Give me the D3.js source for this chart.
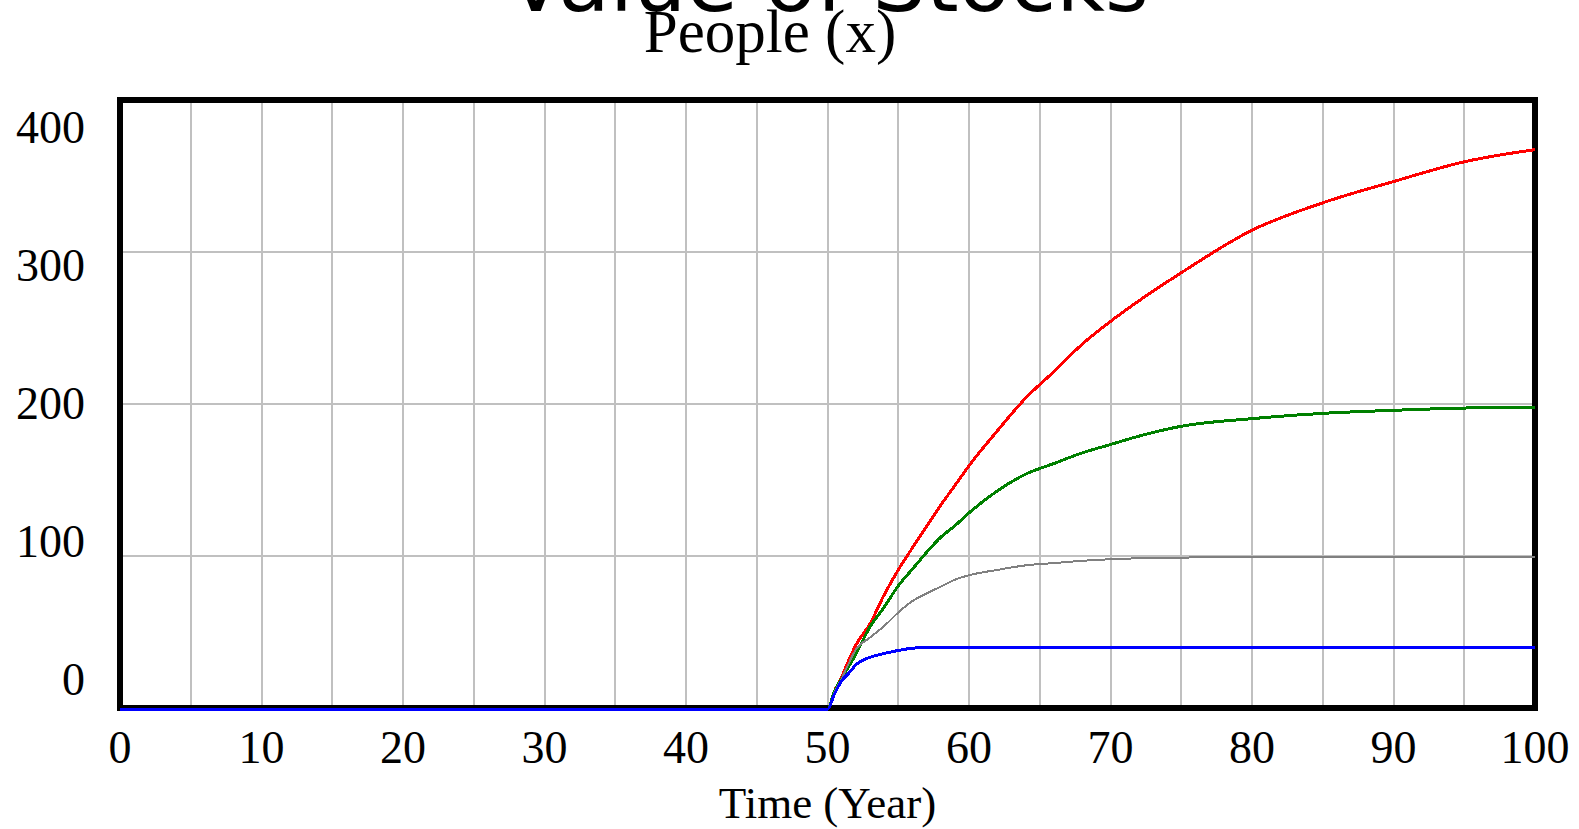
<!DOCTYPE html>
<html>
<head>
<meta charset="utf-8">
<script src="https://cdn.jsdelivr.net/npm/d3@7"></script>
<style>
  html, body { margin: 0; padding: 0; background: #fff; overflow: hidden; }
  svg { display: block; }
  .serif { font-family: "Liberation Serif", "Times New Roman", serif; fill: #000; }
</style>
</head>
<body>
<svg id="chart" width="1579" height="829"></svg>
<script>
// Simulation output: stock levels of People (x) over time, one run per series
const years = [0, 50, 50.5, 51, 51.5, 52, 53, 54, 55, 56, 57, 58, 59, 60, 62, 64, 66, 68, 70, 72, 75, 80, 85, 90, 95, 100];
const redRun   = [0, 0, 12, 21, 32, 42, 56, 75, 91.5, 106, 120, 134, 147, 160, 183, 204.5, 222, 240, 255, 268.5, 287, 315, 333, 347, 360, 368];
const greenRun = [0, 0, 12, 20, 28, 36, 54, 67, 81, 92, 103, 113, 120.5, 129, 143.5, 154.5, 161.5, 168.5, 174, 179.5, 186, 191, 194.5, 196.5, 198, 198.5];
const grayRun  = [0, 0, 11, 20, 30, 39, 47, 54.5, 63.5, 71, 76, 80.5, 85, 88, 91.5, 94.5, 96, 97.5, 98.5, 99.2, 99.6, 100, 100, 100, 100, 100];
const blueRun  = [0, 0, 10, 18.5, 23.5, 29, 34, 36.5, 38.5, 40, 40.5, 40.5, 40.5, 40.5, 40.5, 40.5, 40.5, 40.5, 40.5, 40.5, 40.5, 40.5, 40.5, 40.5, 40.5, 40.5];

const xTicks = [0, 10, 20, 30, 40, 50, 60, 70, 80, 90, 100];
const yTicks = [0, 100, 200, 300, 400];
const xGrid = d3.range(5, 100, 5);
const yGrid = [100, 200, 300];

const chartTitle = "Value of Stocks";
const varName = "People (x)";
const xName = "Time (Year)";

const series = [
  { name: "run1", values: redRun,   color: "#ff0000", width: 3 },
  { name: "run2", values: greenRun, color: "#008000", width: 3 },
  { name: "run3", values: grayRun,  color: "#808080", width: 2 },
  { name: "run4", values: blueRun,  color: "#0000ff", width: 3 }
];

const svg = d3.select("#chart");
const plotL = 120, plotR = 1535, plotT = 100, plotB = 708;

const x = d3.scaleLinear().domain([0, 100]).range([plotL, plotR]);
const y = d3.scaleLinear().domain([0, 400]).range([plotB, plotT]);
// value labels on the vertical axis are spread over their own band
const yLabel = d3.scaleLinear().domain([0, 400]).range([695, 143]);

// grid
svg.append("g")
  .selectAll("line")
  .data(xGrid)
  .join("line")
  .attr("x1", d => Math.round(x(d)))
  .attr("x2", d => Math.round(x(d)))
  .attr("y1", plotT)
  .attr("y2", plotB - 3)
  .attr("stroke", "#c0c0c0")
  .attr("stroke-width", 2)
  .attr("shape-rendering", "crispEdges");

svg.append("g")
  .selectAll("line")
  .data(yGrid)
  .join("line")
  .attr("x1", plotL)
  .attr("x2", plotR)
  .attr("y1", d => Math.round(y(d)))
  .attr("y2", d => Math.round(y(d)))
  .attr("stroke", "#c0c0c0")
  .attr("stroke-width", 2)
  .attr("shape-rendering", "crispEdges");

// frame
svg.append("rect")
  .attr("x", plotL)
  .attr("y", plotT)
  .attr("width", plotR - plotL)
  .attr("height", plotB - plotT)
  .attr("fill", "none")
  .attr("stroke", "#000")
  .attr("stroke-width", 6)
  .attr("shape-rendering", "crispEdges");

// runs
const line = d3.line()
  .x((d, i) => x(years[i]))
  .y(d => y(d) + 1)
  .curve(d3.curveMonotoneX);

svg.append("g")
  .selectAll("path")
  .data(series)
  .join("path")
  .attr("d", s => line(s.values))
  .attr("fill", "none")
  .attr("stroke", s => s.color)
  .attr("stroke-width", s => s.width)
  .attr("shape-rendering", "crispEdges");

// axis labels
svg.append("g")
  .selectAll("text")
  .data(xTicks)
  .join("text")
  .attr("class", "serif")
  .attr("x", d => x(d))
  .attr("y", 763)
  .attr("text-anchor", "middle")
  .attr("font-size", 46)
  .text(d => d);

svg.append("g")
  .selectAll("text")
  .data(yTicks)
  .join("text")
  .attr("class", "serif")
  .attr("x", 85)
  .attr("y", d => yLabel(d))
  .attr("text-anchor", "end")
  .attr("font-size", 46)
  .text(d => d);

svg.append("text")
  .attr("class", "serif")
  .attr("x", x(50))
  .attr("y", 818)
  .attr("text-anchor", "middle")
  .attr("font-size", 45)
  .text(xName);

svg.append("text")
  .attr("class", "serif")
  .attr("x", 770)
  .attr("y", 52)
  .attr("text-anchor", "middle")
  .attr("font-size", 61)
  .text(varName);

svg.append("text")
  .attr("x", 828)
  .attr("y", 11)
  .attr("text-anchor", "middle")
  .attr("font-family", "DejaVu Sans, sans-serif")
  .attr("font-size", 84)
  .attr("fill", "#000")
  .text(chartTitle);
</script>
</body>
</html>
